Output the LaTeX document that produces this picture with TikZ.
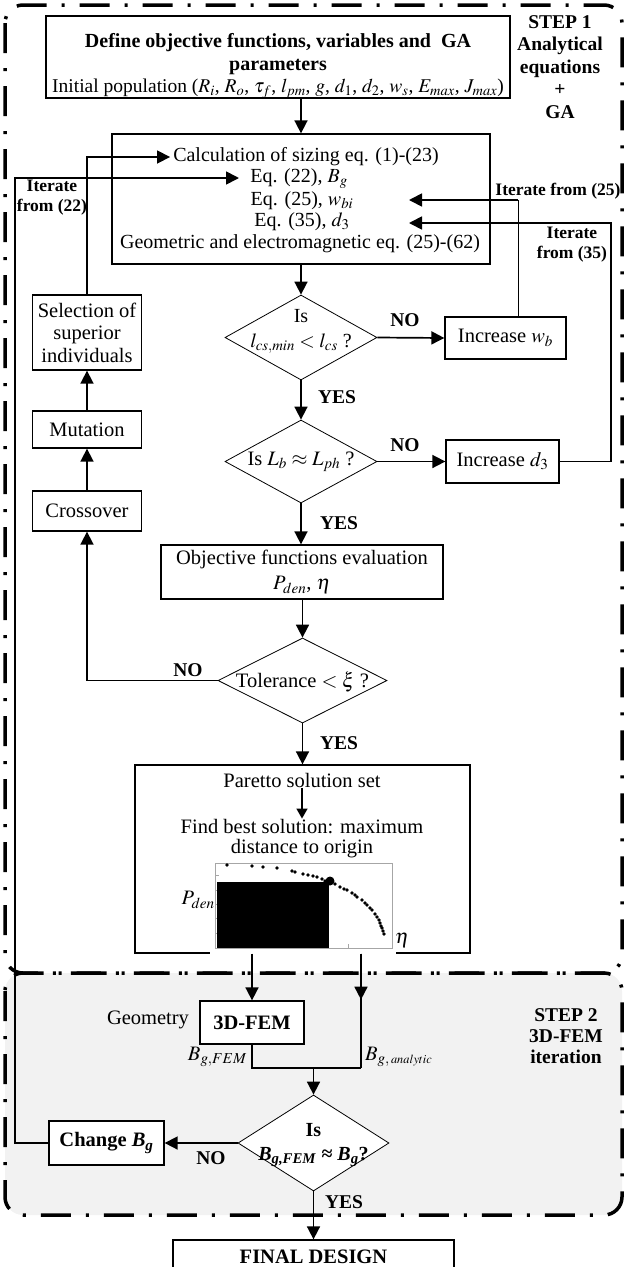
\documentclass[tikz,border=0pt]{standalone}
\usepackage{mathptmx}
\usepackage[no-math]{fontspec}
\setmainfont{Liberation Serif}
\usetikzlibrary{shapes.geometric,arrows.meta}
\definecolor{stepgray}{RGB}{242,242,242}

\begin{document}
\begin{tikzpicture}[x=1pt,y=-1pt,
    every node/.style={font=\fontsize{20.5}{21}\selectfont, inner sep=1pt},
    box/.style={draw, fill=white, line width=1.3pt, align=center},
    decision/.style={diamond, draw, fill=white, line width=0.8pt, inner sep=0pt},
    lab/.style={font=\fontsize{19.5}{22.5}\selectfont\bfseries, align=center},
    eqline/.style={font=\fontsize{20}{21}\selectfont, inner sep=0pt},
    arr/.style={line width=1.7pt, -{Triangle[length=13pt,width=13pt]}},
    con/.style={line width=1.7pt},
    frame/.style={line width=3.5pt, dash pattern=on 30pt off 15pt on 3pt off 15pt, rounded corners=18pt}]

    % Define the x of the left column and of the iterate lines
    \pgfmathsetmacro{\colx}{87}
    \pgfmathsetmacro{\inx}{409}

    \clip (0,0) rectangle (625,1267);

    % Draw the two step frames
    \fill[stepgray, rounded corners=18pt] (5,973) rectangle (622,1215);
    \draw[frame] (5,5) rectangle (622,973);
    \draw[frame] (5,973) rectangle (622,1215);
    \node[lab] (step1) at (560,67) {STEP 1\\Analytical\\equations\\+\\GA};
    \node[lab, font=\fontsize{19.5}{21}\selectfont\bfseries] (step2) at (566,1036) {STEP 2\\3D-FEM\\iteration};

    % Draw the GA part
    \node[box, minimum width=464pt, minimum height=82pt] (define) at (278,57) {};
    \node[align=center, font=\fontsize{20}{22.5}\selectfont] (definetxt) at (278,66) {\textbf{Define objective functions, variables and\ \ GA}\\ \textbf{parameters}\\ {\fontsize{19.5}{22.5}\selectfont Initial population ($R_i$, $R_o$, $\tau_f$, $l_{pm}$, $g$, $d_1$, $d_2$, $w_s$, $E_{max}$, $J_{max}$)}};

    \node[box, minimum width=378pt, minimum height=130pt] (calc) at (301,199) {};
    \node[eqline] (calc1) at (306,157) {Calculation of sizing eq. (1)-(23)};
    \node[eqline] (calc2) at (299,179) {Eq. (22), $B_g$};
    \node[eqline] (calc3) at (302,200.5) {Eq. (25), $w_{bi}$};
    \node[eqline] (calc4) at (302,221.5) {Eq. (35), $d_3$};
    \node[eqline] (calc5) at (300,244) {Geometric and electromagnetic eq. (25)-(62)};

    \node[decision, minimum width=152pt, minimum height=85pt] (d1) at (301,337.5) {};
    \node[align=center, font=\fontsize{20}{22}\selectfont] (d1txt) at (301,331) {Is\\[3pt] $l_{cs,min}<l_{cs}$ ?};
    \node[box, minimum width=121pt, minimum height=42pt] (incw) at (505.5,338) {Increase $w_b$};

    \node[decision, minimum width=152pt, minimum height=83pt] (d2) at (301,461.5) {};
    \node (d2txt) at (301,462) {Is $L_b\approx L_{ph}$ ?};
    \node[box, minimum width=113pt, minimum height=43pt] (incd) at (502.5,461.5) {Increase $d_3$};

    \node[box, minimum width=282pt, minimum height=54pt, font=\fontsize{20.5}{25}\selectfont] (obj) at (302,572) {Objective functions evaluation\\ $P_{den}$, $\eta$};
    \node[decision, minimum width=169pt, minimum height=85pt] (tol) at (302.5,680.5) {};
    \node (toltxt) at (302.5,682) {Tolerance $<\xi$ ?};

    \node[box, minimum width=109pt, minimum height=75pt, font=\fontsize{20.5}{22.5}\selectfont] (sel) at (\colx,332.5) {Selection of\\superior\\individuals};
    \node[box, minimum width=109pt, minimum height=37pt] (mut) at (\colx,429.5) {Mutation};
    \node[box, minimum width=109pt, minimum height=40pt] (cross) at (\colx,511) {Crossover};

    % Draw the Paretto box with its small plot
    \node[box, minimum width=335pt, minimum height=188pt] (par) at (302.5,859) {};
    \node (par1) at (302,780) {Paretto solution set};
    \node (par2) at (302,827) {Find best solution: maximum};
    \node (par3) at (302,849) {distance to origin};
    \draw[line width=1.5pt, -{Triangle[length=10pt,width=11pt]}] (par1) -- (par2);
    \fill[white] (210,949.5) rectangle (396,956);
    \draw[gray!70, line width=0.6pt] (215,863) rectangle (392,948);
    \foreach \ty in {875,890,904,918,933} \draw[gray!70, line width=0.6pt] (215,\ty) -- (219,\ty);
    \foreach \tx in {261,305,348} \draw[gray!70, line width=0.6pt] (\tx,948) -- (\tx,944);
    \fill[black] (217,882) rectangle (329,948);
    \foreach \px/\py in {227/865,252/866,263/867,277/868,292/871,295/872,303/874,308/875,313/876,317/877,322/879,325/881,335/884,340/887,344/889,347/890,352/893,355/895,357/897,362/900,365/903,367/905,370/908,372/910,375/914,377/917,379/920,380/923,381/926,382/928,383/931,384/934}
        \fill[black] (\px,\py) circle (1.8);
    \fill[black] (330,881) circle (4.5);
    \node[anchor=east, inner sep=0pt] (pden) at (215,900) {$P_{den}$};
    \node[anchor=west] (eta) at (394,940) {$\eta$};

    % Draw the 3D-FEM part
    \node[box, minimum width=104pt, minimum height=43pt, font=\fontsize{20.5}{21}\selectfont\bfseries] (fem) at (252,1022.5) {3D-FEM};
    \node (geo) at (148,1020) {Geometry};
    \node[anchor=east] (bfem) at (248,1057) {$B_{g,FEM}$};
    \node[anchor=west] (bana) at (364,1057) {$B_{g,\,\scriptscriptstyle analytic}$};
    \node[decision, minimum width=151pt, minimum height=96pt] (d3) at (313.5,1143) {};
    \node[lab, font=\fontsize{20}{24}\selectfont\bfseries] (d3txt) at (313.5,1145) {Is\\ \textit{B}\textsubscript{\textit{g,FEM}} ≈ \textit{B}\textsubscript{\textit{g}}?};
    \node[box, minimum width=115pt, minimum height=44pt, font=\fontsize{20.5}{21}\selectfont\bfseries] (chg) at (106.5,1143) {Change \textit{B}\textsubscript{\textit{g}}};
    \node[box, minimum width=281pt, minimum height=34pt, font=\fontsize{20.5}{21}\selectfont\bfseries] (final) at (313.5,1257) {FINAL DESIGN};

    % Draw the main flow
    \draw[arr] (define.south -| d1) -- (calc.north -| d1);
    \draw[arr] (calc.south -| d1) -- (d1.north);
    \draw[arr] (d1.east) -- (incw.west);
    \draw[arr] (d1.south) -- (d2.north);
    \draw[arr] (d2.east) -- (incd.west);
    \draw[arr] (d2.south) -- (obj.north -| d2);
    \draw[arr] (obj.south -| tol) -- (tol.north);
    \draw[arr] (tol.south) -- (par.north -| tol);
    \node[lab] (no1) at (405,320) {NO};
    \node[lab] (yes1) at (337,397) {YES};
    \node[lab] (no2) at (405,445) {NO};
    \node[lab] (yes2) at (339,523) {YES};
    \node[lab] (yes3) at (339,743) {YES};

    % Draw the GA loop
    \draw[arr] (tol.west) -| (cross.south);
    \node[lab] (no3) at (188,670) {NO};
    \draw[arr] (cross.north) -- (mut.south);
    \draw[arr] (mut.north) -- (sel.south);
    \draw[arr] (sel.north) |- ([xshift=-3pt]calc1.west);

    % Draw the iterate lines
    \coordinate (r25) at (518,200);
    \coordinate (it25) at (\inx,200);
    \coordinate (r35) at (611,223);
    \coordinate (it35) at (\inx,223);
    \draw[line width=1pt] (r25 |- incw.north) -- (r25);
    \draw[arr] (r25) -- (it25);
    \draw[arr] (incd.east) -| (r35) -- (it35);
    \node[lab, font=\fontsize{17.5}{20}\selectfont\bfseries] (lab25) at (558,191) {Iterate from (25)};
    \node[lab, font=\fontsize{17.5}{20}\selectfont\bfseries] (lab35) at (572,245) {Iterate\\from (35)};
    \node[lab, font=\fontsize{17.5}{20}\selectfont\bfseries] (lab22) at (52,198) {Iterate\\from (22)};

    % Draw the 3D-FEM loop
    \coordinate (ana) at (361,1068);
    \coordinate (l22) at (15,178);
    \coordinate (it22) at (239,178);
    \draw[arr] (par.south -| fem) -- (fem.north);
    \draw[arr] (par.south -| ana) -- ++(0,46);
    \draw[con] (par.south -| ana) -- (ana);
    \draw[con] (fem.south) |- (ana);
    \draw[arr] (d3 |- ana) -- (d3.north);
    \draw[arr] (d3.west) -- (chg.east);
    \node[lab] (no4) at (211,1158) {NO};
    \draw[arr] (chg.west) -| (l22) -- (it22);
    \draw[arr] (d3.south) -- (final.north);
    \node[lab] (yes4) at (344,1202) {YES};

\end{tikzpicture}
\end{document}
